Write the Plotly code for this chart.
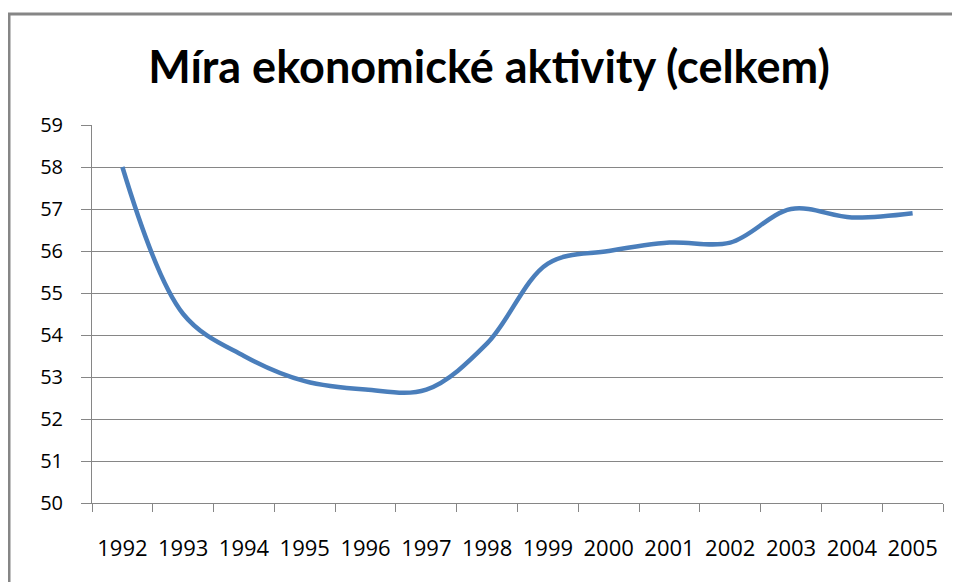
import plotly.graph_objects as go

# ── Data ─────────────────────────────────────────────────────────────────────
years = ["1992", "1993", "1994", "1995", "1996", "1997", "1998",
         "1999", "2000", "2001", "2002", "2003", "2004", "2005"]
rate = [58.0, 54.5, 53.5, 52.9, 52.7, 52.7, 53.8,
        55.7, 56.0, 56.2, 56.2, 57.0, 56.8, 56.9]

TITLE = "Míra ekonomické aktivity (celkem)"
LINE_BLUE = "#4a7ebb"
GREY = "#868686"
FONT = "Open Sans"

# the page body adds an 8px offset, so work in page pixels and subtract it
OFF = 8
W, H = 960, 582
PL, PR, PT, PB = 92, 943, 125, 503          # plot box in page pixels
ML, MT = PL - OFF, PT - OFF
MR, MB = W + OFF - PR, H + OFF - PB
PW, PH = PR - PL, PB - PT


def px_x(p):
    return (p - PL) / PW


def px_y(p):
    return (PB - p) / PH


fig = go.Figure()
fig.add_trace(go.Scatter(
    x=years, y=rate,
    mode="lines",
    line=dict(color=LINE_BLUE, width=4.5, shape="spline", smoothing=1),
    showlegend=False,
))

# chart-area frame (top and left edges visible, rest runs off the image)
fig.add_shape(type="line", xref="paper", yref="paper",
              x0=px_x(7), x1=px_x(975), y0=px_y(14), y1=px_y(14),
              line=dict(color=GREY, width=3))
fig.add_shape(type="line", xref="paper", yref="paper",
              x0=px_x(9), x1=px_x(9), y0=px_y(14), y1=px_y(600),
              line=dict(color=GREY, width=3))

fig.update_layout(
    width=W, height=H,
    margin=dict(l=ML, r=MR, t=MT, b=MB, autoexpand=False),
    paper_bgcolor="white",
    plot_bgcolor="white",
    font=dict(family=FONT, color="#000000"),
    title=dict(
        text=f"<b>{TITLE}</b>",
        font=dict(family="Lato", size=45, color="#000000"),
        x=(489 - OFF) / W, xanchor="center",
        y=(H - (67 - OFF)) / H, yanchor="middle", yref="container",
    ),
)

fig.update_xaxes(
    type="category",
    range=[-0.5, len(years) - 0.5],
    tickson="boundaries",
    showgrid=False,
    showline=True, linecolor=GREY, linewidth=1,
    ticks="outside", ticklen=8, tickcolor=GREY, tickwidth=1,
    tickfont=dict(family=FONT, size=22, color="#000000"),
    ticklabelstandoff=26,
    zeroline=False,
)
fig.update_yaxes(
    range=[50, 59], dtick=1,
    showgrid=True, gridcolor=GREY, gridwidth=1,
    showline=True, linecolor=GREY, linewidth=1,
    ticks="outside", ticklen=10, tickcolor=GREY, tickwidth=1,
    tickfont=dict(family=FONT, size=20, color="#000000"),
    ticklabelstandoff=14,
    zeroline=False,
)

fig.write_html("out.html", config={"displayModeBar": False})
